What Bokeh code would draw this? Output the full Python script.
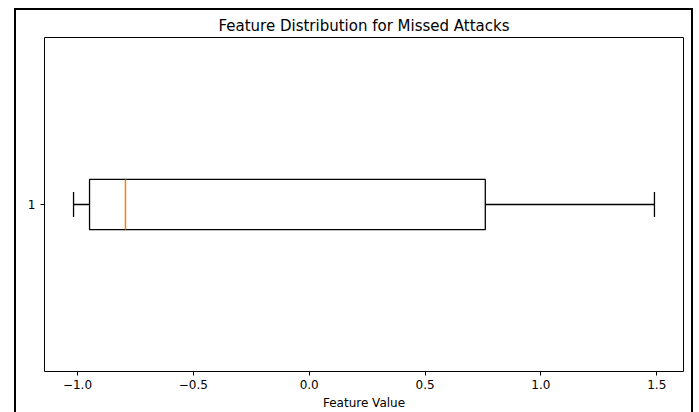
from bokeh.plotting import figure
from bokeh.models import Range1d, FixedTicker
from bokeh.embed import file_html
from bokeh.resources import INLINE

# Box-plot summary of the feature for missed attacks
categories = ["1"]
positions = [1]
whisker_low = [-1.017]
q1 = [-0.948]
median = [-0.793]
q3 = [0.760]
whisker_high = [1.490]

x_ticks = [-1.0, -0.5, 0.0, 0.5, 1.0, 1.5]
x_tick_labels = ["\u22121.0", "\u22120.5", "0.0", "0.5", "1.0", "1.5"]

box_width = 0.15
cap_width = box_width / 2
FONT = "DejaVu Sans"

lo = min(whisker_low)
hi = max(whisker_high)
pad = 0.05 * (hi - lo)

p = figure(
    width=699, height=412,
    x_range=Range1d(lo - pad, hi + pad),
    y_range=Range1d(0.5, 1.5),
    output_backend="svg", toolbar_location=None,
    min_border_left=44, min_border_right=16,
    min_border_top=37, min_border_bottom=41,
)

p.title.text = "Feature Distribution for Missed Attacks"
p.title.align = "center"
p.title.text_font = FONT
p.title.text_font_size = "15px"
p.title.text_font_style = "normal"
p.title.text_color = "#000000"
p.title.standoff = 5

p.xgrid.visible = False
p.ygrid.visible = False
p.outline_line_color = "#000000"
p.outline_line_width = 1
p.background_fill_color = "white"
# transparent border area so the page frame drawn behind the canvas shows
p.border_fill_color = None
p.styles = {
    "background-color": "white",
    "background-image": ", ".join(["linear-gradient(#000, #000)"] * 3),
    "background-repeat": "no-repeat",
    "background-position": "14px 8px, 14px 8px, 691px 8px",
    "background-size": "679px 2px, 2px 404px, 2px 404px",
}

# x axis
p.xaxis.ticker = FixedTicker(ticks=x_ticks)
p.xaxis.major_label_overrides = dict(zip(x_ticks, x_tick_labels))
p.xaxis.axis_label = "Feature Value"
p.xaxis.axis_label_text_font = FONT
p.xaxis.axis_label_text_font_size = "12px"
p.xaxis.axis_label_text_font_style = "normal"
p.xaxis.axis_label_text_color = "#000000"
p.xaxis.axis_label_standoff = 4
p.xaxis.major_label_text_font = FONT
p.xaxis.major_label_text_font_size = "12px"
p.xaxis.major_label_standoff = 4

# y axis
p.yaxis.ticker = FixedTicker(ticks=positions)
p.yaxis.major_label_overrides = {pos: c for pos, c in zip(positions, categories)}
p.yaxis.major_label_text_font = FONT
p.yaxis.major_label_text_font_size = "12px"
p.yaxis.major_label_standoff = 5

for ax in (p.xaxis, p.yaxis):
    ax.axis_line_color = None
    ax.minor_tick_line_color = None
    ax.major_tick_line_color = "#000000"
    ax.major_tick_out = 4
    ax.major_tick_in = 0
    ax.major_label_text_color = "#000000"

# whiskers and caps
p.segment(x0=whisker_low, y0=positions, x1=q1, y1=positions,
          line_color="#000000", line_width=1.3)
p.segment(x0=q3, y0=positions, x1=whisker_high, y1=positions,
          line_color="#000000", line_width=1.3)
p.segment(x0=whisker_low, y0=[y - cap_width / 2 for y in positions],
          x1=whisker_low, y1=[y + cap_width / 2 for y in positions],
          line_color="#000000", line_width=1.3)
p.segment(x0=whisker_high, y0=[y - cap_width / 2 for y in positions],
          x1=whisker_high, y1=[y + cap_width / 2 for y in positions],
          line_color="#000000", line_width=1.3)

# box
p.hbar(y=positions, left=q1, right=q3, height=box_width,
       fill_color=None, line_color="#000000", line_width=1.3)

# median
p.segment(x0=median, y0=[y - box_width / 2 for y in positions],
          x1=median, y1=[y + box_width / 2 for y in positions],
          line_color="#ff7f0e", line_width=1.5)

open("out.html", "w").write(file_html(p, INLINE))
